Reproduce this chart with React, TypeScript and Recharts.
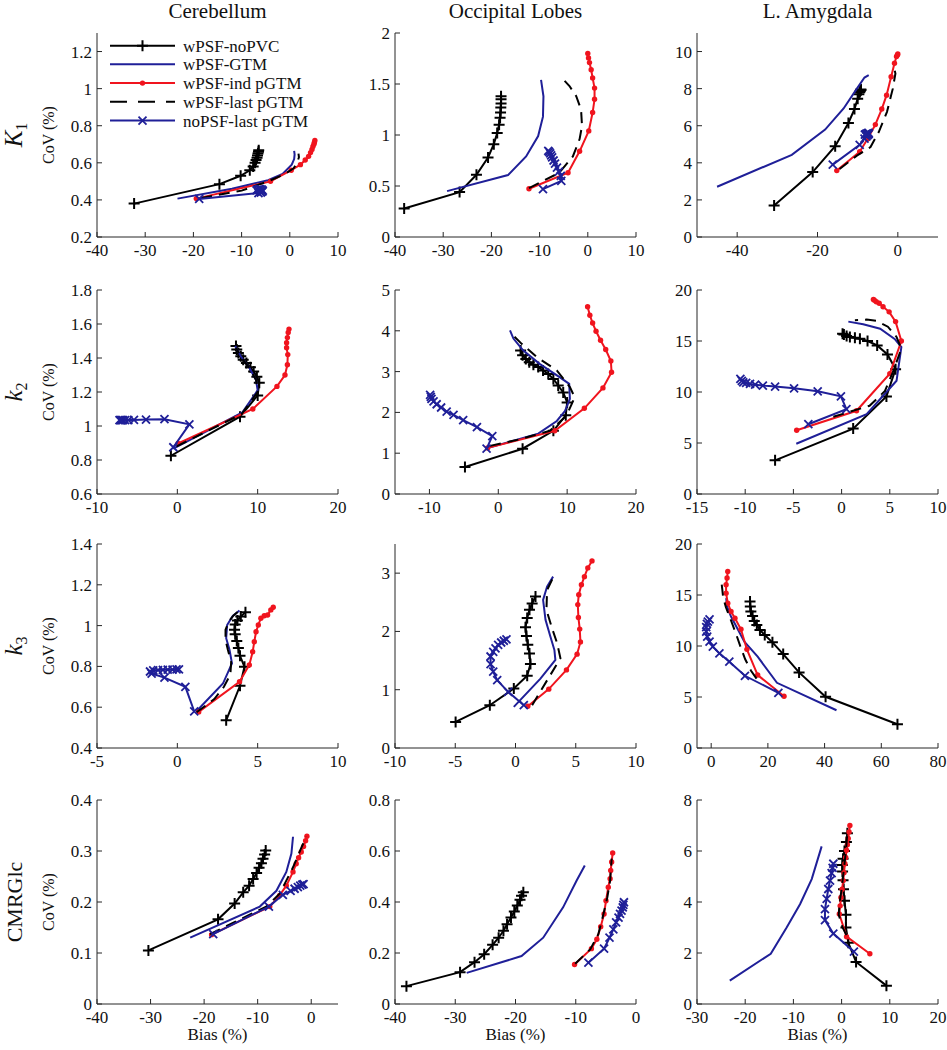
import React from 'react';
import { ScatterChart, Scatter, XAxis, YAxis } from 'recharts';

type Pt = [number, number];

const FONT = 'Liberation Serif';
const BLACK = '#000000';
const BLUE = '#1f1f98';
const RED = '#f0141e';
const AXIS = '#262626';

const SERIES_NAMES = ['wPSF-noPVC', 'wPSF-GTM', 'wPSF-ind pGTM', 'wPSF-last pGTM', 'noPSF-last pGTM'];
const REGIONS = ['Cerebellum', 'Occipital Lobes', 'L. Amygdala'];

// ---------- Row 1: K1 ----------
const cbK1_noPVC: Pt[] = [[-32.3,0.38],[-14.6,0.485],[-10.2,0.53],[-8.3,0.56],[-7.6,0.58],[-7.2,0.6],[-7.0,0.615],[-6.8,0.628],[-6.7,0.64],[-6.6,0.65],[-6.5,0.66],[-6.45,0.668]];
const cbK1_GTM: Pt[] = [[-23.3,0.407],[-12,0.46],[-4.5,0.506],[-1.5,0.54],[0.4,0.59],[0.9,0.62],[1.0,0.645],[0.9,0.665]];
const cbK1_ind: Pt[] = [[-19.4,0.407],[-4,0.5],[0.3,0.56],[2.2,0.59],[3.2,0.615],[3.9,0.635],[4.3,0.655],[4.6,0.672],[4.8,0.688],[5.0,0.7],[5.1,0.71],[5.2,0.72]];
const cbK1_last: Pt[] = [[-18.4,0.41],[-10,0.45],[-4.5,0.5],[-1,0.54],[0.8,0.57],[1.5,0.6],[1.9,0.63],[1.8,0.65]];
const cbK1_noPSF: Pt[] = [[-18.8,0.405],[-6.5,0.437],[-6.0,0.44],[-5.7,0.445],[-5.6,0.45],[-5.8,0.455],[-6.1,0.458],[-6.4,0.458],[-6.7,0.456],[-6.9,0.452]];

const ocK1_noPVC: Pt[] = [[-38.1,0.28],[-26.6,0.44],[-23.1,0.61],[-20.7,0.78],[-19.5,0.91],[-18.8,1.02],[-18.4,1.1],[-18.2,1.17],[-18.1,1.22],[-18.05,1.27],[-18.0,1.31],[-18.0,1.35],[-18.0,1.38]];
const ocK1_GTM: Pt[] = [[-29.2,0.45],[-16.55,0.607],[-12.8,0.79],[-10.3,0.99],[-9.3,1.18],[-9.2,1.38],[-9.7,1.54]];
const ocK1_ind: Pt[] = [[-12.2,0.473],[-4.1,0.63],[-1.7,0.84],[0.2,1.04],[1.0,1.22],[1.4,1.35],[1.4,1.46],[1.0,1.56],[0.7,1.64],[0.35,1.71],[0.15,1.755],[0,1.8]];
const ocK1_last: Pt[] = [[-12.2,0.48],[-5.9,0.63],[-3.1,0.79],[-1.7,0.96],[-1.2,1.09],[-1.4,1.25],[-2.4,1.38],[-3.8,1.48],[-5.2,1.55]];
const ocK1_noPSF: Pt[] = [[-9.3,0.47],[-5.5,0.55],[-5.6,0.6],[-6.0,0.64],[-6.4,0.68],[-6.8,0.72],[-7.1,0.75],[-7.4,0.78],[-7.6,0.8],[-7.8,0.82],[-8.0,0.835],[-8.2,0.845]];

const amK1_noPVC: Pt[] = [[-30.8,1.7],[-21.2,3.5],[-15.6,4.9],[-12.3,6.15],[-10.8,6.9],[-10,7.45],[-9.7,7.7],[-9.5,7.8],[-9.4,7.86],[-9.3,7.9],[-9.2,7.93],[-9.2,7.96]];
const amK1_GTM: Pt[] = [[-45,2.71],[-26.4,4.43],[-18.1,5.79],[-13.5,6.93],[-10.2,8.0],[-8.3,8.6],[-7.25,8.73]];
const amK1_ind: Pt[] = [[-15.2,3.58],[-9.5,4.6],[-7.5,5.3],[-5.6,6.06],[-4.0,6.9],[-2.8,7.65],[-1.67,8.64],[-0.83,9.37],[-0.33,9.73],[-0.1,9.82],[0,9.87]];
const amK1_last: Pt[] = [[-14.5,3.67],[-10.2,4.39],[-6.8,4.85],[-4.75,5.66],[-2.7,6.75],[-1.25,8.0],[-0.6,8.82],[-0.8,9.0]];
const amK1_noPSF: Pt[] = [[-16.2,3.9],[-9.5,4.97],[-8.3,5.3],[-7.8,5.42],[-7.5,5.5],[-7.3,5.55],[-7.2,5.58],[-7.3,5.62],[-7.5,5.6],[-7.8,5.58],[-8.0,5.55],[-8.2,5.52]];

// ---------- Row 2: k2 ----------
const cbK2_noPVC: Pt[] = [[-0.8,0.825],[7.8,1.055],[10.0,1.18],[10.2,1.255],[9.9,1.29],[9.5,1.32],[9.1,1.345],[8.6,1.37],[8.2,1.39],[7.9,1.41],[7.6,1.43],[7.4,1.45],[7.3,1.47]];
const cbK2_GTM: Pt[] = [[-0.5,0.867],[8.1,1.08],[10.0,1.21],[9.8,1.27],[9.0,1.34],[7.9,1.41],[7.2,1.47]];
const cbK2_ind: Pt[] = [[0.1,0.897],[9.4,1.10],[12.4,1.233],[13.4,1.30],[13.7,1.36],[13.75,1.42],[13.6,1.46],[13.6,1.49],[13.7,1.52],[13.8,1.55],[13.9,1.57]];
const cbK2_last: Pt[] = [[-0.1,0.88],[8,1.07],[10,1.2],[9.8,1.27],[9,1.34],[8,1.4],[7.3,1.46]];
const cbK2_noPSF: Pt[] = [[-0.5,0.875],[1.5,1.01],[-1.6,1.04],[-3.9,1.038],[-5.4,1.036],[-6.1,1.035],[-6.5,1.035],[-6.75,1.034],[-6.9,1.034],[-7.0,1.034],[-7.1,1.034],[-7.2,1.034]];

const ocK2_noPVC: Pt[] = [[-4.84,0.66],[3.53,1.11],[8.0,1.55],[9.8,1.93],[10.0,2.245],[9.43,2.49],[8.7,2.66],[8.0,2.82],[7.26,2.94],[6.5,3.03],[5.8,3.11],[5.1,3.17],[4.5,3.23],[4.0,3.31],[3.53,3.4],[3.24,3.52]];
const ocK2_GTM: Pt[] = [[-1.45,1.13],[1.7,1.28],[5.8,1.48],[8.5,1.79],[9.7,2.04],[10.4,2.33],[10.3,2.7],[8.95,2.86],[6.0,3.19],[3.6,3.52],[2.2,3.81],[1.7,4.01]];
const ocK2_ind: Pt[] = [[-1.55,1.13],[8.2,1.55],[12.5,2.1],[15.2,2.6],[16.45,2.985],[16.35,3.26],[15.6,3.54],[14.85,3.77],[14.2,3.99],[13.7,4.19],[13.3,4.38],[12.97,4.59]];
const ocK2_last: Pt[] = [[-1.2,1.18],[3.1,1.34],[7.5,1.55],[9.9,1.92],[11.1,2.37],[10.4,2.62],[8.5,3.03],[5.56,3.36],[3.4,3.68],[1.9,3.93]];
const ocK2_noPSF: Pt[] = [[-1.7,1.11],[-0.87,1.42],[-3.1,1.64],[-5.1,1.81],[-6.5,1.94],[-7.5,2.02],[-8.3,2.12],[-8.95,2.2],[-9.4,2.27],[-9.7,2.33],[-9.8,2.38],[-9.9,2.43]];

const amK2_noPVC: Pt[] = [[-6.9,3.3],[1.2,6.41],[4.65,9.57],[5.6,12.24],[4.76,13.68],[3.69,14.57],[2.69,15.0],[1.9,15.23],[1.38,15.33],[0.86,15.39],[0.52,15.49],[0.24,15.63],[0.1,15.72]];
const amK2_GTM: Pt[] = [[-4.7,4.93],[2.6,7.83],[5.7,11.1],[6.2,14.4],[5.5,15.2],[4.0,16.2],[2.24,16.64],[0.7,16.9]];
const amK2_ind: Pt[] = [[-4.66,6.25],[1.55,8.16],[5.0,11.8],[6.2,15.0],[5.6,16.9],[4.93,17.86],[4.3,18.36],[3.9,18.7],[3.6,18.85],[3.4,19.0],[3.3,19.08]];
const amK2_last: Pt[] = [[-0.86,7.57],[2.9,8.65],[4.5,10.1],[5.3,11.9],[6.2,14.24],[5.7,15.4],[4.8,16.4],[3.6,16.97],[2.6,17.1],[1.38,17.04]];
const amK2_noPSF: Pt[] = [[-3.45,6.84],[0.5,8.32],[-0.07,9.57],[-2.48,10.07],[-4.93,10.36],[-6.9,10.53],[-8.17,10.63],[-8.97,10.72],[-9.5,10.79],[-9.9,10.89],[-10.2,10.95],[-10.35,11.1],[-10.5,11.28]];

// ---------- Row 3: k3 ----------
const cbK3_noPVC: Pt[] = [[3.04,0.536],[3.9,0.705],[4.18,0.798],[3.9,0.852],[3.8,0.89],[3.7,0.925],[3.6,0.957],[3.56,0.98],[3.6,1.005],[3.74,1.025],[3.95,1.045],[4.24,1.066]];
const cbK3_GTM: Pt[] = [[1.19,0.58],[2.84,0.716],[3.4,0.815],[3.25,0.88],[3.04,0.938],[3.1,1.003],[3.45,1.047],[3.87,1.074]];
const cbK3_ind: Pt[] = [[1.33,0.577],[3.87,0.725],[4.48,0.807],[4.69,0.872],[4.79,0.921],[4.9,0.97],[5.04,1.003],[5.2,1.036],[5.41,1.048],[5.62,1.052],[5.82,1.077],[5.97,1.09]];
const cbK3_last: Pt[] = [[1.2,0.575],[2.3,0.64],[2.9,0.7],[3.3,0.76],[3.35,0.82],[3.15,0.88],[3.0,0.93],[3.0,0.98],[3.2,1.02],[3.5,1.05],[3.8,1.07]];
const cbK3_noPSF: Pt[] = [[1.05,0.58],[0.5,0.7],[-0.8,0.745],[-1.6,0.765],[-1.7,0.775],[-1.5,0.78],[-1.2,0.782],[-0.9,0.783],[-0.6,0.784],[-0.3,0.784],[-0.05,0.785],[0.1,0.785]];

const ocK3_noPVC: Pt[] = [[-4.97,0.447],[-2.13,0.734],[-0.14,1.02],[0.97,1.24],[1.24,1.44],[1.16,1.62],[1.02,1.77],[0.91,1.92],[0.83,2.07],[0.97,2.23],[1.16,2.37],[1.38,2.48],[1.66,2.6]];
const ocK3_GTM: Pt[] = [[-0.14,0.706],[2.07,1.19],[3.31,1.51],[3.23,1.68],[2.9,1.91],[2.49,2.2],[2.29,2.54],[2.62,2.77],[3.12,2.94]];
const ocK3_ind: Pt[] = [[1.02,0.717],[2.76,1.01],[4.23,1.34],[5.11,1.61],[5.39,1.82],[5.33,2.04],[5.22,2.24],[5.17,2.46],[5.25,2.63],[5.47,2.8],[5.72,2.94],[6.0,3.09],[6.35,3.21]];
const ocK3_last: Pt[] = [[1.38,0.734],[2.62,1.16],[3.73,1.54],[3.45,1.8],[3.04,2.05],[2.57,2.37],[2.62,2.71],[3.18,2.95]];
const ocK3_noPSF: Pt[] = [[0.69,0.734],[-0.61,0.964],[-1.52,1.165],[-1.85,1.31],[-2.07,1.44],[-2.07,1.57],[-1.85,1.65],[-1.66,1.71],[-1.44,1.77],[-1.19,1.81],[-0.97,1.84],[-0.75,1.865]];

const amK3_noPVC: Pt[] = [[65.7,2.33],[40.35,5.02],[31,7.41],[25.4,9.21],[21.6,10.36],[18.9,11.08],[17.2,11.57],[16.1,12.07],[15.2,12.46],[14.6,12.95],[14.0,13.38],[13.8,13.87],[13.7,14.36]];
const amK3_GTM: Pt[] = [[44.2,3.7],[23.2,6.39],[16.4,8.95],[11.7,10.43],[7.0,12.89],[5.6,13.87],[5.3,14.69]];
const amK3_ind: Pt[] = [[25.7,5.08],[16.4,7.15],[12.6,9.67],[10.5,11.64],[8.4,12.72],[7.0,13.38],[5.85,14.2],[5.26,15.18],[5.26,16.0],[5.6,16.66],[5.85,17.31]];
const amK3_last: Pt[] = [[16,6.8],[14,7.6],[12,8.7],[10.5,9.8],[9,11],[7,12.5],[5.2,13.8],[4.2,14.8],[3.9,15.6],[3.6,16.3]];
const amK3_noPSF: Pt[] = [[23.7,5.41],[11.9,7.08],[6.4,8.46],[2.9,9.28],[0.58,9.93],[-0.58,10.43],[-1.4,10.92],[-1.75,11.41],[-1.75,11.84],[-1.5,12.16],[-1.17,12.39],[-0.58,12.62]];

// ---------- Row 4: CMRGlc ----------
const cbCM_noPVC: Pt[] = [[-30.4,0.105],[-17.4,0.166],[-14.3,0.197],[-12.7,0.219],[-11.6,0.232],[-10.85,0.245],[-10.2,0.257],[-9.74,0.267],[-9.3,0.276],[-9.0,0.285],[-8.7,0.293],[-8.5,0.301]];
const cbCM_GTM: Pt[] = [[-22.6,0.13],[-9.6,0.191],[-6.5,0.222],[-4.65,0.259],[-3.7,0.295],[-3.4,0.328]];
const cbCM_ind: Pt[] = [[-18.6,0.136],[-7.75,0.191],[-5.9,0.213],[-4.65,0.232],[-3.4,0.259],[-2.8,0.275],[-2.36,0.287],[-1.86,0.298],[-1.43,0.309],[-1.05,0.32],[-0.8,0.329]];
const cbCM_last: Pt[] = [[-18.9,0.137],[-8.4,0.191],[-5.9,0.216],[-3.4,0.268],[-1.9,0.305],[-0.9,0.328]];
const cbCM_noPSF: Pt[] = [[-18.3,0.137],[-7.9,0.191],[-5.3,0.214],[-3.85,0.222],[-3.1,0.226],[-2.5,0.229],[-2.05,0.232],[-1.67,0.234],[-1.43,0.235]];

const ocCM_noPVC: Pt[] = [[-38.1,0.07],[-29.2,0.125],[-26.8,0.164],[-25.2,0.195],[-23.8,0.232],[-22.8,0.26],[-22.0,0.287],[-21.4,0.313],[-20.75,0.339],[-20.2,0.363],[-19.7,0.386],[-19.25,0.409],[-19.0,0.425],[-18.7,0.438]];
const ocCM_GTM: Pt[] = [[-28.1,0.122],[-19.0,0.188],[-15.4,0.26],[-12.1,0.379],[-9.85,0.484],[-8.5,0.543]];
const ocCM_ind: Pt[] = [[-10.2,0.155],[-7.4,0.217],[-6.5,0.254],[-5.86,0.303],[-5.3,0.353],[-4.98,0.405],[-4.6,0.458],[-4.3,0.491],[-4.2,0.524],[-4.04,0.557],[-3.87,0.592]];
const ocCM_last: Pt[] = [[-10.1,0.158],[-7.6,0.214],[-6.25,0.274],[-5.4,0.353],[-4.76,0.418],[-4.3,0.484],[-4.04,0.57]];
const ocCM_noPSF: Pt[] = [[-7.9,0.162],[-5.3,0.217],[-4.4,0.26],[-3.76,0.293],[-3.3,0.32],[-2.9,0.339],[-2.65,0.353],[-2.4,0.366],[-2.2,0.379],[-2.1,0.389],[-2.0,0.399]];

const amCM_noPVC: Pt[] = [[9.3,0.72],[3.0,1.65],[1.4,2.4],[0.9,3.0],[0.9,3.5],[0.6,4.05],[0.4,4.5],[0.3,4.85],[0.2,5.2],[0.15,5.45],[0.3,5.7],[0.6,6.0],[1.0,6.35],[1.2,6.7]];
const amCM_GTM: Pt[] = [[-23.2,0.92],[-14.7,1.97],[-11.4,3.0],[-8.6,3.92],[-6.2,4.9],[-4.14,6.18]];
const amCM_ind: Pt[] = [[5.86,1.97],[1.03,2.64],[-0.48,3.53],[-0.3,3.85],[-0.14,4.18],[0.1,4.5],[0.34,4.84],[0.5,5.15],[0.69,5.5],[0.85,5.75],[1.03,6.03],[1.2,6.25],[1.38,6.49],[1.55,6.75],[1.72,7.0]];
const amCM_last: Pt[] = [[1.0,2.7],[0.2,3.0],[-0.6,3.5],[-0.4,4.0],[0.0,4.5],[0.3,5.0],[0.6,5.5],[0.9,6.0],[1.1,6.5],[1.3,6.8]];
const amCM_noPSF: Pt[] = [[2.55,2.05],[-1.72,2.76],[-3.45,3.29],[-3.45,3.72],[-3.1,4.12],[-2.76,4.51],[-2.4,4.84],[-2.07,5.13],[-1.86,5.34],[-1.72,5.5]];

// ---------- ticks ----------
const xt_cbK1 = [-40, -30, -20, -10, 0, 10];
const xt_ocK1 = [-40, -30, -20, -10, 0, 10];
const xt_amK1 = [-40, -20, 0];
const xt_cbK2 = [-10, 0, 10, 20];
const xt_ocK2 = [-10, 0, 10, 20];
const xt_amK2 = [-15, -10, -5, 0, 5, 10];
const xt_cbK3 = [-5, 0, 5, 10];
const xt_ocK3 = [-10, -5, 0, 5, 10];
const xt_amK3 = [0, 20, 40, 60, 80];
const xt_cbCM = [-40, -30, -20, -10, 0];
const xt_ocCM = [-40, -30, -20, -10, 0];
const xt_amCM = [-30, -20, -10, 0, 10, 20];

const yt_cbK1 = [0.2, 0.4, 0.6, 0.8, 1, 1.2];
const yt_ocK1 = [0, 0.5, 1, 1.5, 2];
const yt_amK1 = [0, 2, 4, 6, 8, 10];
const yt_cbK2 = [0.6, 0.8, 1, 1.2, 1.4, 1.6, 1.8];
const yt_ocK2 = [0, 1, 2, 3, 4, 5];
const yt_amK2 = [0, 5, 10, 15, 20];
const yt_cbK3 = [0.4, 0.6, 0.8, 1, 1.2, 1.4];
const yt_ocK3 = [0, 1, 2, 3];
const yt_amK3 = [0, 5, 10, 15, 20];
const yt_cbCM = [0, 0.1, 0.2, 0.3, 0.4];
const yt_ocCM = [0, 0.2, 0.4, 0.6, 0.8];
const yt_amCM = [0, 2, 4, 6, 8];

// ---------- layout ----------
const COL_X = [97, 395, 697];
const ROW_Y = [33, 290, 544, 800];
const PW = 241;
const PH = 204;

interface PanelDef {
  row: number;
  col: number;
  xd: [number, number];
  xt: number[];
  yd: [number, number];
  yt: number[];
  series: Pt[][];
}

const PANELS: PanelDef[] = [
  { row: 0, col: 0, xd: [-40, 10], xt: xt_cbK1, yd: [0.2, 1.3], yt: yt_cbK1, series: [cbK1_noPVC, cbK1_GTM, cbK1_ind, cbK1_last, cbK1_noPSF] },
  { row: 0, col: 1, xd: [-40, 10], xt: xt_ocK1, yd: [0, 2], yt: yt_ocK1, series: [ocK1_noPVC, ocK1_GTM, ocK1_ind, ocK1_last, ocK1_noPSF] },
  { row: 0, col: 2, xd: [-50, 10], xt: xt_amK1, yd: [0, 11], yt: yt_amK1, series: [amK1_noPVC, amK1_GTM, amK1_ind, amK1_last, amK1_noPSF] },
  { row: 1, col: 0, xd: [-10, 20], xt: xt_cbK2, yd: [0.6, 1.8], yt: yt_cbK2, series: [cbK2_noPVC, cbK2_GTM, cbK2_ind, cbK2_last, cbK2_noPSF] },
  { row: 1, col: 1, xd: [-15, 20], xt: xt_ocK2, yd: [0, 5], yt: yt_ocK2, series: [ocK2_noPVC, ocK2_GTM, ocK2_ind, ocK2_last, ocK2_noPSF] },
  { row: 1, col: 2, xd: [-15, 10], xt: xt_amK2, yd: [0, 20], yt: yt_amK2, series: [amK2_noPVC, amK2_GTM, amK2_ind, amK2_last, amK2_noPSF] },
  { row: 2, col: 0, xd: [-5, 10], xt: xt_cbK3, yd: [0.4, 1.4], yt: yt_cbK3, series: [cbK3_noPVC, cbK3_GTM, cbK3_ind, cbK3_last, cbK3_noPSF] },
  { row: 2, col: 1, xd: [-10, 10], xt: xt_ocK3, yd: [0, 3.5], yt: yt_ocK3, series: [ocK3_noPVC, ocK3_GTM, ocK3_ind, ocK3_last, ocK3_noPSF] },
  { row: 2, col: 2, xd: [-5, 80], xt: xt_amK3, yd: [0, 20], yt: yt_amK3, series: [amK3_noPVC, amK3_GTM, amK3_ind, amK3_last, amK3_noPSF] },
  { row: 3, col: 0, xd: [-40, 5], xt: xt_cbCM, yd: [0, 0.4], yt: yt_cbCM, series: [cbCM_noPVC, cbCM_GTM, cbCM_ind, cbCM_last, cbCM_noPSF] },
  { row: 3, col: 1, xd: [-40, 0], xt: xt_ocCM, yd: [0, 0.8], yt: yt_ocCM, series: [ocCM_noPVC, ocCM_GTM, ocCM_ind, ocCM_last, ocCM_noPSF] },
  { row: 3, col: 2, xd: [-30, 20], xt: xt_amCM, yd: [0, 8], yt: yt_amCM, series: [amCM_noPVC, amCM_GTM, amCM_ind, amCM_last, amCM_noPSF] },
];

// ---------- markers ----------
type MarkKind = 'plus' | 'none' | 'dot' | 'cross';

function drawMark(kind: MarkKind, cx: number, cy: number, color: string) {
  if (kind === 'plus') {
    const r = 5.5;
    return <path d={`M${cx - r},${cy}H${cx + r}M${cx},${cy - r}V${cy + r}`} stroke={color} strokeWidth={2} fill="none" />;
  }
  if (kind === 'cross') {
    const r = 4;
    return <path d={`M${cx - r},${cy - r}L${cx + r},${cy + r}M${cx - r},${cy + r}L${cx + r},${cy - r}`} stroke={color} strokeWidth={1.8} fill="none" />;
  }
  if (kind === 'dot') {
    return <circle cx={cx} cy={cy} r={2.7} fill={color} stroke="none" />;
  }
  return <g />;
}

interface SeriesStyle { color: string; mark: MarkKind; dash?: string; }
const STYLES: SeriesStyle[] = [
  { color: BLACK, mark: 'plus' },
  { color: BLUE, mark: 'none' },
  { color: RED, mark: 'dot' },
  { color: BLACK, mark: 'none', dash: '11 7' },
  { color: BLUE, mark: 'cross' },
];

const ML = 70, MT = 12, MR = 12, MB = 36;
const TICK_TEXT = { fill: '#111', fontSize: 17, fontFamily: FONT };

function Panel({ def }: { def: PanelDef }) {
  const left = COL_X[def.col] - ML;
  const top = ROW_Y[def.row] - MT;
  return (
    <div style={{ position: 'absolute', left, top }}>
      <ScatterChart width={ML + PW + MR} height={MT + PH + MB} margin={{ top: MT, right: MR, bottom: 0, left: 0 }}>
        <XAxis type="number" dataKey="x" domain={def.xd} ticks={def.xt} allowDataOverflow interval={0}
          height={MB} tickSize={-5} tickMargin={12} tick={TICK_TEXT}
          axisLine={{ stroke: AXIS }} tickLine={{ stroke: AXIS }} />
        <YAxis type="number" dataKey="y" domain={def.yd} ticks={def.yt} allowDataOverflow interval={0}
          width={ML} tickSize={-5} tickMargin={10} tick={TICK_TEXT}
          axisLine={{ stroke: AXIS }} tickLine={{ stroke: AXIS }} />
        <XAxis xAxisId="top" orientation="top" type="number" domain={def.xd} ticks={def.xt} allowDataOverflow interval={0}
          height={0} tickSize={-5} tick={false} axisLine={{ stroke: AXIS }} tickLine={{ stroke: AXIS }} />
        <YAxis yAxisId="right" orientation="right" type="number" domain={def.yd} ticks={def.yt} allowDataOverflow interval={0}
          width={0} tickSize={-5} tick={false} axisLine={{ stroke: AXIS }} tickLine={{ stroke: AXIS }} />
        {def.series.map((pts, i) => {
          const st = STYLES[i];
          const data = pts.map(([x, y]) => ({ x, y }));
          return (
            <Scatter
              key={i}
              name={SERIES_NAMES[i]}
              data={data}
              fill={st.color}
              isAnimationActive={false}
              line={{ stroke: st.color, strokeWidth: 2, strokeDasharray: st.dash, fill: 'none' }}
              lineType="joint"
              shape={(p: any) => drawMark(st.mark, p.cx, p.cy, st.color)}
            />
          );
        })}
      </ScatterChart>
    </div>
  );
}

function Legend() {
  const x0 = 110, x1 = 175, tx = 183;
  const rows = [45.7, 64.3, 83.1, 101.8, 120.6];
  return (
    <g>
      {SERIES_NAMES.map((name, i) => {
        const st = STYLES[i];
        const y = rows[i];
        return (
          <g key={name}>
            <line x1={x0} x2={x1} y1={y} y2={y} stroke={st.color} strokeWidth={2} strokeDasharray={st.dash ? '17 11' : undefined} />
            {drawMark(st.mark, (x0 + x1) / 2, y, st.color)}
            <text x={tx} y={y + 6} fontSize={17} fontFamily={FONT} fill="#111">{name}</text>
          </g>
        );
      })}
    </g>
  );
}

function Overlay() {
  const rowLabel = (r: number) => {
    const cy = ROW_Y[r] + PH / 2;
    const x = 22;
    const tr = `rotate(-90 ${x} ${cy})`;
    if (r === 0) {
      return (
        <text key={r} x={x} y={cy} transform={tr} textAnchor="middle" fontFamily={FONT} fontSize={25} fill="#111">
          <tspan fontStyle="italic">K</tspan><tspan fontSize={16} dy={5}>1</tspan>
        </text>
      );
    }
    if (r === 1 || r === 2) {
      return (
        <text key={r} x={x} y={cy} transform={tr} textAnchor="middle" fontFamily={FONT} fontSize={25} fill="#111">
          <tspan fontStyle="italic">k</tspan><tspan fontSize={16} dy={5}>{r === 1 ? '2' : '3'}</tspan>
        </text>
      );
    }
    return (
      <text key={r} x={x} y={cy} transform={tr} textAnchor="middle" fontFamily={FONT} fontSize={22} fill="#111">CMRGlc</text>
    );
  };
  return (
    <svg width={947} height={1050} style={{ position: 'absolute', left: 0, top: 0, pointerEvents: 'none' }}>
      {REGIONS.map((t, c) => (
        <text key={t} x={COL_X[c] + PW / 2} y={18} textAnchor="middle" fontFamily={FONT} fontSize={21} fill="#111">{t}</text>
      ))}
      {[0, 1, 2, 3].map(rowLabel)}
      {[0, 1, 2, 3].map((r) => {
        const cy = ROW_Y[r] + PH / 2;
        return (
          <text key={'cov' + r} x={54} y={cy} transform={`rotate(-90 54 ${cy})`} textAnchor="middle" fontFamily={FONT} fontSize={16} fill="#111">CoV (%)</text>
        );
      })}
      {[0, 1, 2].map((c) => (
        <text key={'bias' + c} x={COL_X[c] + PW / 2} y={1040} textAnchor="middle" fontFamily={FONT} fontSize={17} fill="#111">Bias (%)</text>
      ))}
      <Legend />
    </svg>
  );
}

export default function App() {
  return (
    <div style={{ position: 'absolute', left: 0, top: 0, width: 947, height: 1050, background: '#fff', fontFamily: FONT }}>
      {PANELS.map((d, i) => <Panel key={i} def={d} />)}
      <Overlay />
    </div>
  );
}
